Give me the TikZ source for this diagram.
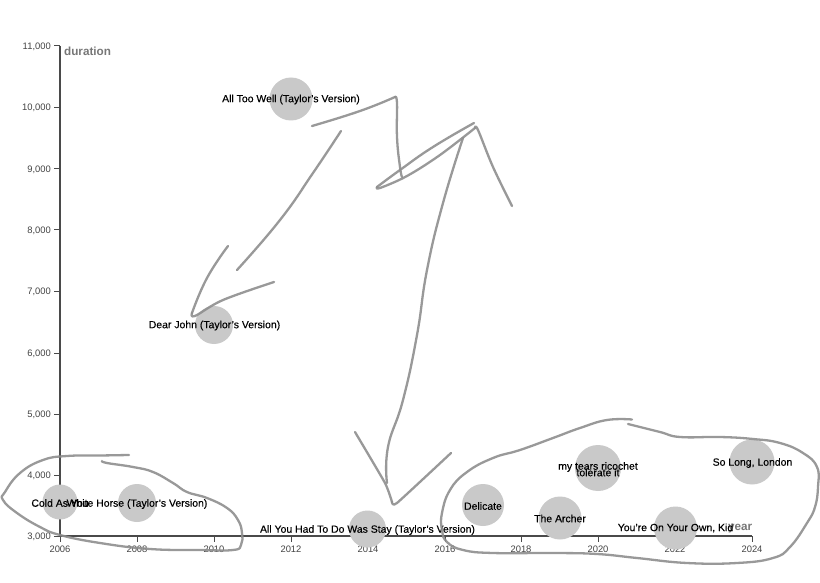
\documentclass[tikz,border=0pt]{standalone}
\usepackage{fontspec}
\setmainfont{Liberation Sans}
\definecolor{bub}{HTML}{C9C9C9}
\definecolor{axisc}{HTML}{4A4A4A}
\definecolor{tickt}{HTML}{444444}
\definecolor{titlec}{HTML}{777777}
\definecolor{sk}{HTML}{8E8E8E}
\tikzset{
  bubble/.style={circle,fill=bub,draw=none,inner sep=0pt,minimum size=#1},
  lab/.style={inner sep=0pt,text=black,font=\fontsize{10.45}{11}\selectfont\addfontfeatures{FakeBold=0.25}},
  ticky/.style={inner sep=0pt,anchor=east,text=tickt,font=\fontsize{9.4}{10}\selectfont},
  tickx/.style={inner sep=0pt,anchor=center,text=tickt,font=\fontsize{9.4}{10}\selectfont},
  axtitle/.style={inner sep=0pt,text=titlec,font=\fontsize{11.7}{12}\selectfont\bfseries},
  axline/.style={draw=axisc,line width=1.3pt},
  tickmark/.style={draw=axisc,line width=1pt},
  sketch/.style={draw=sk,line width=2.3pt,line cap=round,line join=round,opacity=.9},
}
\begin{document}
\begin{tikzpicture}[x=1pt,y=-1pt]
\useasboundingbox (0,0) rectangle (820,583);
\fill[white] (0,0) rectangle (820,583);
% axes
\coordinate (O) at (60,536);
\coordinate (Ytop) at (60,46);
\coordinate (Xend) at (752,536);
\draw[axline] (Ytop) -- (O) -- (Xend);
\foreach \y/\t in {46/{11,000},107.5/{10,000},169/{9,000},230/{8,000},291.5/{7,000},353/{6,000},414/{5,000},475/{4,000},536/{3,000}}{
  \draw[tickmark] (54,\y) -- (60,\y);
  \node[ticky] at (51,\y+0.5) {\t};
}
\foreach \x/\t in {60/2006,137/2008,214/2010,291/2012,368/2014,445/2016,521/2018,598/2020,675/2022,752/2024}{
  \draw[tickmark] (\x,536) -- (\x,542);
  \node[tickx] at (\x,549) {\t};
}
\node[axtitle,anchor=west] (ytitle) at (64,51.5) {duration};
\node[axtitle,anchor=east] (xtitle) at (752.5,528.5) {year};
% bubbles
\node[bubble=35pt] (b1) at (60,502) {};
\node[bubble=38pt] (b2) at (137,503) {};
\node[bubble=43pt] (b3) at (291,99) {};
\node[bubble=38pt] (b4) at (214,325) {};
\node[bubble=37pt] (b5) at (367.5,529) {};
\node[bubble=42pt] (b6) at (483,505) {};
\node[bubble=43pt] (b7) at (560,518) {};
\node[bubble=46pt] (b8) at (598,468) {};
\node[bubble=43pt] (b9) at (675.5,528) {};
\node[bubble=45pt] (b10) at (752,462) {};
% labels
\node[lab] (l1) at (60,503) {Cold As You};
\node[lab] (l2) at (137,504) {White Horse (Taylor's Version)};
\node[lab] (l3) at (291,99.5) {All Too Well (Taylor's Version)};
\node[lab] (l4) at (214.5,325.5) {Dear John (Taylor's Version)};
\node[lab] (l5) at (367.5,530) {All You Had To Do Was Stay (Taylor's Version)};
\node[lab] (l6) at (483,506) {Delicate};
\node[lab] (l7) at (560,518.5) {The Archer};
\node[lab] (l8) at (598,467) {my tears ricochet};
\node[lab] (l9) at (598,472.5) {tolerate it};
\node[lab] (l10) at (675.5,528) {You're On Your Own, Kid};
\node[lab] (l11) at (752.5,463) {So Long, London};
% hand-drawn strokes
\draw[sketch] plot[smooth,tension=.75] coordinates {(129,455) (100,455.5) (67,456) (43,460) (20,473) (5,492) (3,500) (17,513) (40,527) (60,535) (100,543) (150,549) (200,550) (233,550) (241,545) (242,533) (238,520) (227,508) (207,498) (187,492) (173,483) (153,472) (133,467) (107,463) (102,461)};
\draw[sketch] plot[smooth,tension=.75] coordinates {(632,419.5) (607,420) (580,428) (553,438) (520,450) (493,458) (467,472) (450,490) (442,513) (442,530) (447,542) (463,550) (493,553) (553,553) (597,554) (637,558) (687,563) (737,563) (773,558) (790,547) (807,523) (815,507) (818,487) (817,467) (803,453) (780,443) (753,439) (720,437) (680,437) (660,432) (628,424)};
\draw[sketch] plot[smooth,tension=.8] coordinates {(312,126) (360,111) (395,97)};
\draw[sketch] plot[smooth,tension=.8] coordinates {(395,97) (397,103) (397,137) (400,167) (402,177)};
\draw[sketch] plot[smooth,tension=.8] coordinates {(341,131) (313,173) (280,220) (237,270)};
\draw[sketch] plot[smooth,tension=.8] coordinates {(228,246) (207,278) (192,313)};
\draw[sketch] plot[smooth,tension=.6] coordinates {(192,313) (195,316) (223,300) (274,282)};
\draw[sketch] plot[smooth,tension=.8] coordinates {(474,123) (433,147) (400,170) (377,187)};
\draw[sketch] plot[smooth,tension=.6] coordinates {(377,187) (380,188) (407,176) (440,155) (475,128)};
\draw[sketch] plot[smooth,tension=.6] coordinates {(475,128) (478,130) (493,167) (512,206)};
\draw[sketch] plot[smooth,tension=.8] coordinates {(463,138) (443,203) (427,270) (417,335) (403,400) (388,447) (387,483)};
\draw[sketch] plot[smooth,tension=.3] coordinates {(355,432) (385,483) (392,502)};
\draw[sketch] plot[smooth,tension=.3] coordinates {(392,502) (397,503) (451,453)};
\end{tikzpicture}
\end{document}
